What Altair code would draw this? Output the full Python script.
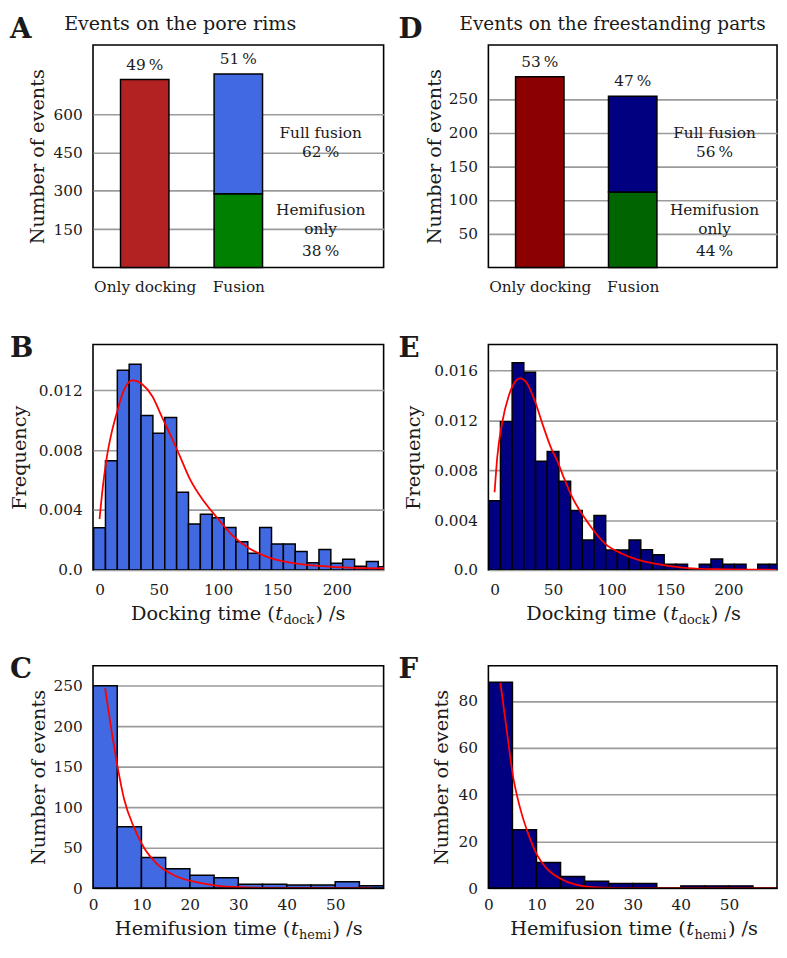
import altair as alt
import pandas as pd

FONT = "DejaVu Serif"
INK = "#1a1a1a"
GRID = "#9b9b9b"
RED = "#ff0000"

# ---------------- data ----------------
# A / D : event counts
bar_categories = ["Only docking", "Fusion"]
bar_positions = [0, 1]
seg_names = ["Only docking", "Hemifusion only", "Full fusion"]
seg_pos = [0, 1, 1]
A_counts = [735, 288, 469]
D_counts = [283, 112, 142]
A_colors = ["#b22222", "#008000", "#4169e1"]
D_colors = ["#8b0000", "#006400", "#000080"]
A_top_pct = ["49\u2009%", "51\u2009%"]
D_top_pct = ["53\u2009%", "47\u2009%"]
A_note_text = ["Full fusion", "62\u2009%", "Hemifusion", "only", "38\u2009%"]
D_note_text = ["Full fusion", "56\u2009%", "Hemifusion", "only", "44\u2009%"]
A_note_y = [526, 450, 225, 149, 65]
D_note_y = [199.8, 170.8, 84.5, 56.5, 23.7]
note_x = [1.88, 1.88, 1.88, 1.88, 1.88]

# B / E : docking time histograms (frequency), 10 s bins
dock_bin_left = [-5, 5, 15, 25, 35, 45, 55, 65, 75, 85, 95, 105, 115, 125,
                 135, 145, 155, 165, 175, 185, 195, 205, 215, 225, 235]
dock_bin_right = [5, 15, 25, 35, 45, 55, 65, 75, 85, 95, 105, 115, 125, 135,
                  145, 155, 165, 175, 185, 195, 205, 215, 225, 235, 245]
B_freq = [0.00281, 0.00729, 0.01334, 0.01373, 0.01031, 0.00912, 0.01018, 0.00519,
          0.00307, 0.00372, 0.00348, 0.00283, 0.00188, 0.00112, 0.00283, 0.00173,
          0.00173, 0.00123, 0.00048, 0.00136, 0.00045, 0.00071, 0.00024, 0.00056, 0.00022]
E_freq = [0.00556, 0.01191, 0.01663, 0.01587, 0.00873, 0.00952, 0.00713, 0.00477,
          0.00241, 0.00438, 0.00160, 0.00160, 0.00241, 0.00163, 0.00121, 0.00045,
          0.00045, 0.0, 0.00045, 0.00087, 0.00045, 0.00045, 0.0, 0.00045, 0.00045]
B_fit_x = [0, 3, 6.2, 10, 13.9, 20.8, 27.8, 36.2, 44.5, 52.8, 61.2, 68, 76, 88, 99,
           112, 126, 140, 154, 168, 182, 196, 210, 239]
B_fit_y = [0.0034, 0.0057, 0.00755, 0.0091, 0.0103, 0.01205, 0.01266, 0.01238, 0.0116,
           0.01018, 0.00876, 0.00755, 0.0061, 0.00458, 0.0035, 0.00231, 0.00145, 0.00091,
           0.00058, 0.0004, 0.00028, 0.0002, 0.00015, 0.0001]
E_fit_x = [0, 2.3, 6.5, 12, 19.1, 21.9, 27.5, 34.5, 41.5, 48.6, 52.8, 58.4, 65.4, 80.9,
           94.9, 109, 123, 137, 150, 165, 190, 241]
E_fit_y = [0.00624, 0.00907, 0.01184, 0.01395, 0.01527, 0.01538, 0.01501, 0.01355,
           0.01157, 0.00973, 0.00893, 0.0076, 0.00603, 0.00365, 0.00207, 0.0013, 0.0008,
           0.0005, 0.0003, 0.00015, 0.00006, 0.00001]

# C / F : hemifusion time histograms (counts), 5 s bins
hemi_bin_left = [0, 5, 10, 15, 20, 25, 30, 35, 40, 45, 50, 55]
hemi_bin_right = [5, 10, 15, 20, 25, 30, 35, 40, 45, 50, 55, 60]
C_counts = [250, 76, 38, 24, 16, 13, 5, 5, 4, 4, 8, 3]
F_counts = [88, 25, 11, 5, 3, 2, 2, 0, 1, 1, 1, 0]
C_fit_x = [2.5, 3.7, 5.05, 6.4, 8.5, 10.5, 13.2, 16.7, 20.8, 25.5, 32.4, 40, 50, 57.5]
C_fit_y = [247, 199, 150.7, 110.5, 74.4, 50.2, 30.1, 16.1, 8.0, 3.2, 0.8, 0.2, 0.05, 0.0]
F_fit_x = [2.5, 3.9, 5.1, 6.6, 8.3, 10.0, 12.1, 14.8, 18.2, 22.3, 30, 40, 60]
F_fit_y = [87.6, 66.1, 48.1, 34.2, 23.1, 14.7, 8.5, 4.3, 1.5, 0.4, 0.05, 0.0, 0.0]

# axis ticks
A_yticks = [150, 300, 450, 600]
D_yticks = [50, 100, 150, 200, 250]
B_yticks = [0, 0.004, 0.008, 0.012]
E_yticks = [0, 0.004, 0.008, 0.012, 0.016]
C_yticks = [0, 50, 100, 150, 200, 250]
F_yticks = [0, 20, 40, 60, 80]
dock_xticks = [0, 50, 100, 150, 200]
hemi_xticks = [0, 10, 20, 30, 40, 50]

FREQ_EXPR = "datum.value == 0 ? '0.0' : format(datum.value, '.3f')"
CAT_EXPR = "datum.value == 0 ? '%s' : '%s'" % (bar_categories[0], bar_categories[1])


def text_piece(txt, x, y, size=19.5, style="normal", weight="normal", align="left"):
    return alt.Chart(pd.DataFrame({"t": [txt]})).mark_text(
        align=align, baseline="alphabetic", font=FONT, fontSize=size,
        fontStyle=style, fontWeight=weight, color=INK
    ).encode(x=alt.value(x), y=alt.value(y), text="t:N")


def xtitle(main, sub, y, t_x, sub_x, close_x):
    return [
        text_piece(main, t_x - 0.5, y, align="right"),
        text_piece("t", t_x, y, style="italic"),
        text_piece(sub, sub_x, y + 4, size=13),
        text_piece(") /s", close_x, y),
    ]


def bar_panel(counts, colors, top_pct, notes_txt, note_y, W, H, ymax, yticks, title_x,
              letter, letter_x, title, title_size):
    segs = pd.DataFrame({"name": seg_names, "pos": seg_pos, "count": counts, "col": colors})
    segs["high"] = segs.groupby("pos")["count"].cumsum()
    segs["low"] = segs["high"] - segs["count"]
    tops = segs.groupby("pos", as_index=False)["high"].max()
    tops["pct"] = top_pct
    notes = pd.DataFrame({"nx": note_x, "ny": note_y, "t": notes_txt})

    xs = alt.Scale(domain=[-0.5, 2.5], nice=False, zero=False)
    ys = alt.Scale(domain=[0, ymax], nice=False)
    xax = alt.Axis(values=bar_positions, labelExpr=CAT_EXPR, title=None, grid=False, labelPadding=12.4)
    yax = alt.Axis(values=yticks, title="Number of events", titleX=title_x,
                   titleBaseline="alphabetic", grid=True, labelPadding=11)

    bars = alt.Chart(segs).mark_bar(size=49, stroke="black", strokeWidth=1.5).encode(
        x=alt.X("pos:Q", scale=xs, axis=xax),
        y=alt.Y("high:Q", scale=ys, axis=yax),
        y2="low:Q",
        color=alt.Color("col:N", scale=None),
    )
    pct = alt.Chart(tops).mark_text(dy=-15, baseline="middle", font=FONT, fontSize=15.5, color=INK).encode(
        x=alt.X("pos:Q", scale=xs, axis=xax),
        y=alt.Y("high:Q", scale=ys, axis=yax),
        text="pct:N",
    )
    nt = alt.Chart(notes).mark_text(baseline="middle", font=FONT, fontSize=15.5, color=INK).encode(
        x=alt.X("nx:Q", scale=xs, axis=xax),
        y=alt.Y("ny:Q", scale=ys, axis=yax),
        text="t:N",
    )
    layers = [bars, pct, nt,
              text_piece(letter, letter_x, -7.3, size=28, weight="bold"),
              text_piece(title, -29.2, -15.3, size=title_size)]
    return alt.layer(*layers).properties(width=W, height=H)


def hist_panel(left, right, vals, color, fx, fy, W, H, top_off, xdom, ymax, xticks, yticks,
               ytitle, title_x, ylabel_expr, xlabel_pad, letter, letter_x, xt_kind, xt_base):
    hist = pd.DataFrame({"lo": left, "hi": right, "v": vals})
    fit = pd.DataFrame({"fx": fx, "fy": fy})
    VH = H + top_off
    xs = alt.Scale(domain=xdom, nice=False, zero=False)
    if top_off:
        ys = alt.Scale(domain=[0, ymax], nice=False, range=[VH, top_off])
    else:
        ys = alt.Scale(domain=[0, ymax], nice=False)
    xax = alt.Axis(values=xticks, title=None, grid=False, labelPadding=xlabel_pad)
    ykw = dict(values=yticks, title=ytitle, titleX=title_x, titleBaseline="alphabetic",
               grid=True, labelPadding=11)
    if top_off:
        ykw["titleY"] = top_off + H / 2
    if ylabel_expr:
        ykw["labelExpr"] = ylabel_expr
    yax = alt.Axis(**ykw)
    bars = alt.Chart(hist).mark_bar(fill=color, stroke="black", strokeWidth=1.5, clip=True).encode(
        x=alt.X("lo:Q", scale=xs, axis=xax),
        x2="hi:Q",
        y=alt.Y("v:Q", scale=ys, axis=yax),
        y2=alt.datum(0),
    )
    line = alt.Chart(fit).mark_line(color=RED, strokeWidth=1.8, clip=True, interpolate="monotone").encode(
        x=alt.X("fx:Q", scale=xs, axis=xax),
        y=alt.Y("fy:Q", scale=ys, axis=yax),
    )
    layers = [bars, line, text_piece(letter, letter_x, top_off + 12.4, size=28, weight="bold")]
    yb = VH + xt_base
    if xt_kind == "dock":
        layers += xtitle("Docking time (", "dock", yb, 184.3, 192.6, 225)
    else:
        layers += xtitle("Hemifusion time (", "hemi", yb, 200.2, 208.5, 242.3)
    props = dict(width=W, height=VH)
    if top_off:
        frame = alt.Chart(pd.DataFrame({"k": [0]})).mark_rect(
            fillOpacity=0, stroke="black", strokeWidth=1.6
        ).encode(x=alt.value(0), x2=alt.value(W), y=alt.value(top_off), y2=alt.value(VH))
        layers.append(frame)
        props["view"] = alt.ViewBackground(stroke="transparent")
    return alt.layer(*layers).properties(**props)


WL, WR = 294, 292
H1, H2, H3 = 225, 228, 225
ROW_GAP = 78
OFF3 = 19  # extra gap above the third row

pA = bar_panel(A_counts, A_colors, A_top_pct, A_note_text, A_note_y, WL, H1, 870, A_yticks, -50,
               "A", -84, "Events on the pore rims", 19.3)
pD = bar_panel(D_counts, D_colors, D_top_pct, D_note_text, D_note_y, WR, H1, 330, D_yticks, -48.4,
               "D", -91, "Events on the freestanding parts", 18.6)

pB = hist_panel(dock_bin_left, dock_bin_right, B_freq, "#4169e1", B_fit_x, B_fit_y, WL, H2, 0,
                [-5.5, 239.5], 0.01505, dock_xticks, B_yticks, "Frequency", -68.5, FREQ_EXPR,
                12.5, "B", -84, "dock", 51)
pE = hist_panel(dock_bin_left, dock_bin_right, E_freq, "#000080", E_fit_x, E_fit_y, WR, H2, 0,
                [-5.3, 241.5], 0.0181, dock_xticks, E_yticks, "Frequency", -70, FREQ_EXPR,
                12.5, "E", -91, "dock", 51)
pC = hist_panel(hemi_bin_left, hemi_bin_right, C_counts, "#4169e1", C_fit_x, C_fit_y, WL, H3, OFF3,
                [0, 60], 274.5, hemi_xticks, C_yticks, "Number of events", -49.3, None,
                10, "C", -84, "hemi", 47)
pF = hist_panel(hemi_bin_left, hemi_bin_right, F_counts, "#000080", F_fit_x, F_fit_y, WR, H3, OFF3,
                [0, 60], 95, hemi_xticks, F_yticks, "Number of events", -41, None,
                10, "F", -91, "hemi", 47)

chart = alt.concat(
    pA, pD, pB, pE, pC, pF,
    columns=2,
    spacing=alt.RowColnumber(row=ROW_GAP, column=106),
    bounds="flush",
).properties(
    padding=0
).configure_view(
    stroke="black", strokeWidth=1.6
).configure_axis(
    labelFont=FONT, labelFontSize=15.5, labelColor=INK,
    titleFont=FONT, titleFontSize=19.5, titleFontWeight="normal", titleColor=INK,
    gridColor=GRID, gridWidth=1.6, ticks=False, tickSize=0, domain=False,
    labelFlush=False, labelOverlap=False
)

chart.save("out.html", embed_options={"renderer": "svg", "actions": False})
